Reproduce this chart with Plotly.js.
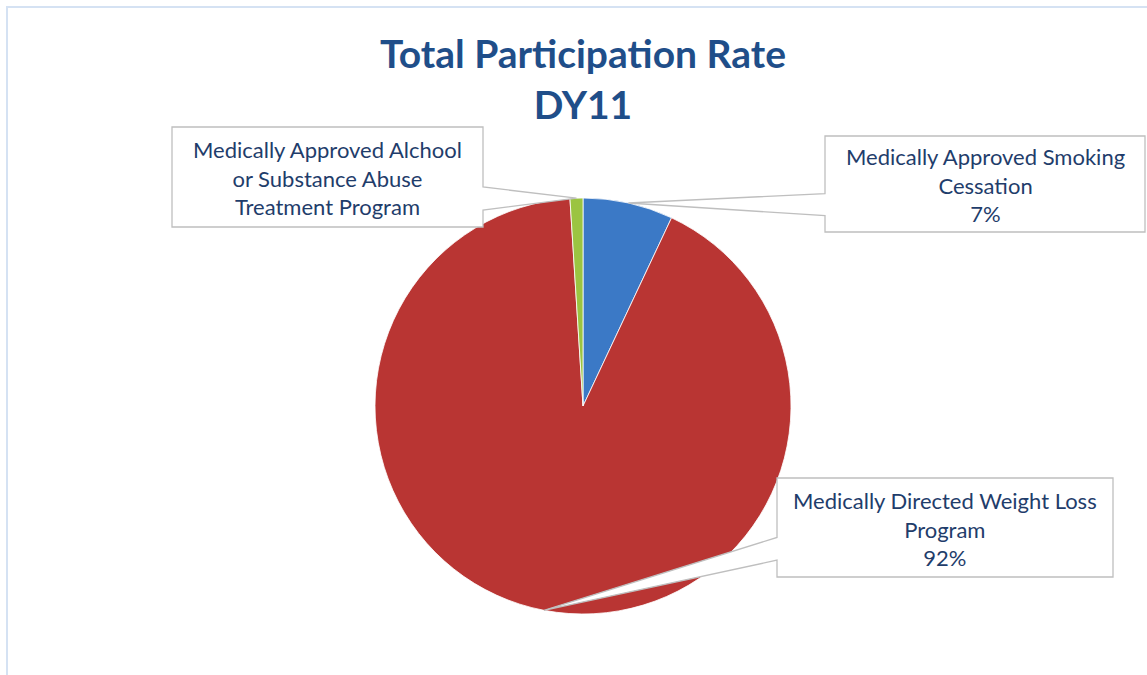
<!DOCTYPE html>
<html>
<head>
<meta charset="utf-8">
<script src="https://cdn.plot.ly/plotly-3.0.1.min.js"></script>
<style>
    html, body { margin: 0; padding: 0; background: white; }
    #chart { width: 1147px; height: 675px; }
</style>
</head>
<body>
<div id="chart"></div>
<script>
// chart data
const programs = [
    'Medically Approved Smoking<br>Cessation',
    'Medically Directed Weight Loss<br>Program',
    'Medically Approved Alchool<br>or Substance Abuse<br>Treatment Program'
];
const participation = [7, 92, 1];
const showPercent = [true, true, false];
const sliceColors = ['#3B79C6', '#B93533', '#9BC441'];

// callout boxes in pixels (page is 1147 x 675, margins 0)
const W = 1147, H = 675;
const boxes = [
    { x0: 825, y0: 136, x1: 1145, y1: 232, side: 'left' },
    { x0: 777, y0: 478, x1: 1113, y1: 577, side: 'left' },
    { x0: 172, y0: 127, x1: 483, y1: 227, side: 'right' }
];

const pie = { cx: 583, cy: 406, r: 208 };

const px = x => x / W;
const py = y => 1 - y / H;

// point on the rim at the middle of each slice (clockwise from 12 o'clock)
function sliceTips() {
    const total = participation.reduce((a, b) => a + b, 0);
    let cum = 0;
    return participation.map(v => {
        const mid = (cum + v / 2) / total * 2 * Math.PI;
        cum += v;
        return [pie.cx + pie.r * Math.sin(mid), pie.cy - pie.r * Math.cos(mid)];
    });
}

function calloutPath(b, tip) {
    const h = b.y1 - b.y0;
    const b1 = b.y0 + h * 0.6, b2 = b.y0 + h * 0.83;
    let pts;
    if (b.side === 'right') {
        pts = [[b.x0, b.y0], [b.x1, b.y0], [b.x1, b1], tip, [b.x1, b2], [b.x1, b.y1], [b.x0, b.y1]];
    } else {
        pts = [[b.x0, b.y0], [b.x1, b.y0], [b.x1, b.y1], [b.x0, b.y1], [b.x0, b2], tip, [b.x0, b1]];
    }
    return 'M' + pts.map(p => px(p[0]).toFixed(5) + ',' + py(p[1]).toFixed(5)).join(' L') + ' Z';
}

const total = participation.reduce((a, b) => a + b, 0);
const tips = sliceTips();

const shapes = [{
    // outer chart frame
    type: 'rect', xref: 'paper', yref: 'paper',
    x0: px(7), y0: -0.05, x1: 1.05, y1: py(7),
    line: { color: '#D5E2F3', width: 2 },
    fillcolor: 'rgba(0,0,0,0)', layer: 'below'
}];

const annotations = [];

boxes.forEach((b, i) => {
    shapes.push({
        type: 'path', xref: 'paper', yref: 'paper',
        path: calloutPath(b, tips[i]),
        fillcolor: 'white',
        line: { color: '#BFBFBF', width: 1.3 },
        layer: 'above'
    });
    let text = programs[i];
    if (showPercent[i]) {
        text += '<br>' + Math.round(participation[i] / total * 100) + '%';
    }
    annotations.push({
        xref: 'paper', yref: 'paper',
        x: px((b.x0 + b.x1) / 2), y: py((b.y0 + b.y1) / 2 + 1),
        xanchor: 'center', yanchor: 'middle',
        text: text,
        showarrow: false,
        align: 'center',
        font: { family: 'Lato, "Open Sans", sans-serif', size: 22, color: '#1F3D6B' }
    });
});

const plotData = [{
    type: 'pie',
    labels: programs,
    values: participation,
    sort: false,
    direction: 'clockwise',
    rotation: 0,
    textinfo: 'none',
    hoverinfo: 'skip',
    marker: {
        colors: sliceColors,
        line: { color: 'white', width: 0.8 }
    },
    domain: {
        x: [px(pie.cx - pie.r), px(pie.cx + pie.r)],
        y: [py(pie.cy + pie.r), py(pie.cy - pie.r)]
    }
}];

const layout = {
    title: {
        text: '<b>Total Participation Rate<br>DY11</b>',
        font: { family: 'Lato, "Open Sans", sans-serif', size: 39, color: '#1F4E89' },
        x: px(583),
        xanchor: 'center',
        y: py(68),
        yanchor: 'top'
    },
    width: W,
    height: H,
    showlegend: false,
    margin: { l: 0, r: 0, t: 0, b: 0 },
    paper_bgcolor: 'white',
    plot_bgcolor: 'white',
    shapes: shapes,
    annotations: annotations
};

const config = {
    responsive: false,
    displayModeBar: false
};

Plotly.newPlot('chart', plotData, layout, config);
</script>
</body>
</html>
